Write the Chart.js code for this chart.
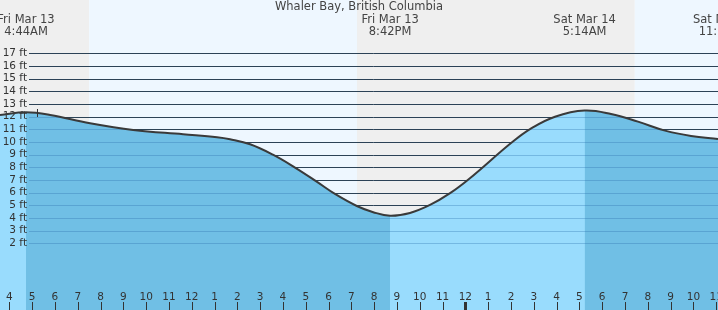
<!DOCTYPE html>
<html lang="en">
<head>
<meta charset="UTF-8" />
<title>Whaler Bay tides</title>
<script src="https://cdn.jsdelivr.net/npm/chart.js"></script>
<style>
  body { margin: 0; background: #fff; }
  #tideChart { display: block; }
</style>
</head>
<body>
<canvas id="tideChart" width="718" height="310"></canvas>
<script>
// hours counted from midnight, Fri Mar 13
const tideHours = [3.59, 4.73, 5.79, 7.54, 9.43, 11.62, 13.11, 13.68, 14.56, 15.58, 16.53, 17.48, 18.28, 19.24, 19.96, 20.70,
                   21.57, 22.45, 23.33, 24.20, 25.99, 26.87, 27.93, 29.23, 30.39, 31.57, 32.76, 33.90, 35.08];
const tideHeights = [12.13, 12.34, 12.13, 11.47, 10.94, 10.60, 10.37, 10.21, 9.81, 8.97, 7.97, 6.86, 5.89, 4.94, 4.45, 4.17,
                     4.39, 5.02, 5.95, 7.13, 9.89, 11.05, 11.99, 12.47, 12.20, 11.60, 10.89, 10.47, 10.23];

// high / low tide events
const eventHours = [4.73, 20.70, 29.23, 35.35];
const eventDays = ["Fri Mar 13", "Fri Mar 13", "Sat Mar 14", "Sat Mar 14"];
const eventTimes = ["4:44AM", "8:42PM", "5:14AM", "11:21AM"];

// sunrise, sunset, sunrise
const sunHours = [7.50, 19.25, 31.43];

const nowHour = 5.21;
const nowHeight = 12.28;

const ftTicks = [2, 3, 4, 5, 6, 7, 8, 9, 10, 11, 12, 13, 14, 15, 16, 17];
const hourTicks = [];
for (let h = 4; h <= 35; h++) hourTicks.push(h);

const X_MIN = 3.59, X_MAX = 35.08;
const Y_MIN = -3.27, Y_MAX = 21.2;

const NIGHT = "#efefef", DAY = "#eef7ff";
const EBB = "#70bfe5", FLOOD = "#99dcfd";
const TEXT = "#333";
const FONT = "DejaVu Sans";

// falling tide (after a high) is darker
function isEbb(x) {
    let n = 0;
    eventHours.forEach(e => { if (x >= e) n++; });
    return n % 2 === 1;
}

function drawGrid(chart, color) {
    const { ctx, scales: { y } } = chart;
    ctx.save();
    ctx.strokeStyle = color;
    ctx.lineWidth = 1;
    ftTicks.forEach(v => {
        const py = Math.round(y.getPixelForValue(v)) + 0.5;
        ctx.beginPath();
        ctx.moveTo(29, py);
        ctx.lineTo(chart.width, py);
        ctx.stroke();
    });
    ctx.restore();
}

const tidePlugin = {
    id: "tideDecor",
    beforeDraw(chart) {
        const { ctx, scales: { x } } = chart;
        const edges = [X_MIN, ...sunHours, X_MAX];
        ctx.save();
        for (let i = 0; i < edges.length - 1; i++) {
            const a = x.getPixelForValue(edges[i]);
            const b = x.getPixelForValue(edges[i + 1]);
            ctx.fillStyle = i % 2 === 0 ? NIGHT : DAY;
            ctx.fillRect(a, 0, b - a, chart.height);
        }
        ctx.restore();
    },
    beforeDatasetsDraw(chart) {
        drawGrid(chart, "#2e2e2e");
    },
    afterDatasetDraw(chart, args) {
        // after the water fills, before the outline
        if (args.index !== 1) return;
        const { ctx, scales: { x, y } } = chart;
        drawGrid(chart, "rgba(40,110,170,0.32)");

        ctx.save();
        ctx.fillStyle = TEXT;
        ctx.font = "10.5px '" + FONT + "'";
        ctx.textBaseline = "middle";
        ctx.textAlign = "right";
        ftTicks.forEach(v => {
            ctx.fillText(v + " ft", 27, y.getPixelForValue(v));
        });

        ctx.textAlign = "center";
        hourTicks.forEach(h => {
            const px = x.getPixelForValue(h);
            const label = h % 12 === 0 ? 12 : h % 12;
            ctx.fillText(String(label), px, 297);
            const w = h % 24 === 0 ? 3 : 1;
            ctx.fillRect(Math.round(px) - Math.floor(w / 2), 302, w, 8);
        });
        ctx.restore();
    },
    afterDatasetsDraw(chart) {
        const { ctx, scales: { x, y } } = chart;
        ctx.save();
        // current time marker
        const nx = Math.round(x.getPixelForValue(nowHour)) + 0.5;
        const ny = y.getPixelForValue(nowHeight);
        ctx.strokeStyle = "#333";
        ctx.lineWidth = 1;
        ctx.beginPath();
        ctx.moveTo(nx, ny - 4);
        ctx.lineTo(nx, ny + 4);
        ctx.stroke();

        // title and tide events
        ctx.fillStyle = "#444";
        ctx.font = "11.5px '" + FONT + "'";
        ctx.textBaseline = "middle";
        ctx.textAlign = "center";
        ctx.fillText("Whaler Bay, British Columbia", chart.width / 2, 7);
        eventHours.forEach((h, i) => {
            const px = x.getPixelForValue(h);
            ctx.fillText(eventDays[i], px, 20);
            ctx.fillText(eventTimes[i], px, 32);
        });
        ctx.restore();
    }
};

const tidePoints = tideHours.map((h, i) => ({ x: h, y: tideHeights[i] }));

const ctx = document.getElementById("tideChart").getContext("2d");
const tideChart = new Chart(ctx, {
    type: "line",
    data: {
        datasets: [{
            // outline
            data: tidePoints,
            borderColor: "#3a3a3a",
            borderWidth: 2,
            pointRadius: 0,
            tension: 0.4,
            fill: false,
            order: 0
        }, {
            // darker falling-tide water
            data: tidePoints,
            borderWidth: 0,
            pointRadius: 0,
            tension: 0.4,
            fill: "start",
            backgroundColor: EBB,
            segment: {
                backgroundColor: c => isEbb(c.p0.parsed.x) ? EBB : "rgba(0,0,0,0)"
            },
            order: 1
        }, {
            // lighter water everywhere underneath
            data: tidePoints,
            borderWidth: 0,
            pointRadius: 0,
            tension: 0.4,
            fill: "start",
            backgroundColor: FLOOD,
            order: 2
        }]
    },
    options: {
        responsive: false,
        devicePixelRatio: 1,
        animation: false,
        layout: { padding: 0 },
        scales: {
            x: { type: "linear", min: X_MIN, max: X_MAX, display: false },
            y: { min: Y_MIN, max: Y_MAX, display: false }
        },
        plugins: {
            legend: { display: false },
            tooltip: { enabled: false }
        }
    },
    plugins: [tidePlugin]
});
</script>
</body>
</html>
